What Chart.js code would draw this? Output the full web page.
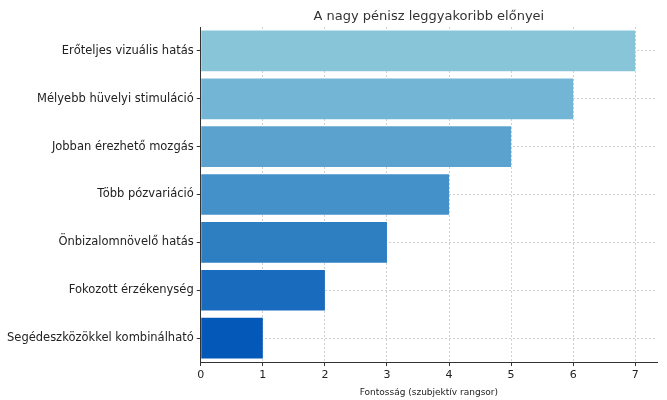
<!DOCTYPE html>
<html>
<head>
<meta charset="utf-8">
<script src="https://cdn.jsdelivr.net/npm/chart.js@4"></script>
<style>
  body { margin: 0; background: #fff; }
  #wrap { width: 667px; height: 400px; }
</style>
</head>
<body>
<div id="wrap"><canvas id="chart"></canvas></div>
<script>
const labels = [
  'Erőteljes vizuális hatás',
  'Mélyebb hüvelyi stimuláció',
  'Jobban érezhető mozgás',
  'Több pózvariáció',
  'Önbizalomnövelő hatás',
  'Fokozott érzékenység',
  'Segédeszközökkel kombinálható'
];
const values = [7, 6, 5, 4, 3, 2, 1];
const barColors = ['#89c5d9', '#72b5d5', '#5ba3ce', '#4490c8', '#2e7ec2', '#196bbd', '#0458b8'];
const xTicks = [0, 1, 2, 3, 4, 5, 6, 7];
const chartTitle = 'A nagy pénisz leggyakoribb előnyei';

// title centred over the plot area, like matplotlib
const plotTitle = {
  id: 'plotTitle',
  afterDraw(chart) {
    const { ctx, chartArea } = chart;
    ctx.save();
    ctx.fillStyle = '#333';
    ctx.font = '13px "DejaVu Sans"';
    ctx.textAlign = 'center';
    ctx.textBaseline = 'alphabetic';
    ctx.fillText(chartTitle, (chartArea.left + chartArea.right) / 2, chartArea.top - 7);
    ctx.restore();
  }
};

const ctx = document.getElementById('chart').getContext('2d');
new Chart(ctx, {
  type: 'bar',
  data: {
    labels: labels,
    datasets: [{
      data: values,
      backgroundColor: barColors,
      barPercentage: 0.85,
      categoryPercentage: 1.0
    }]
  },
  options: {
    indexAxis: 'y',
    responsive: true,
    maintainAspectRatio: false,
    animation: false,
    layout: { padding: { left: 4, right: 10, top: 27, bottom: 0 } },
    plugins: {
      legend: { display: false },
      tooltip: { enabled: false },
      title: { display: false }
    },
    scales: {
      x: {
        min: 0,
        max: 7.35,
        afterBuildTicks: (axis) => { axis.ticks = xTicks.map(v => ({ value: v })); },
        ticks: { color: '#222', font: { family: 'DejaVu Sans', size: 11 } },
        grid: { color: '#d0d0d0', tickColor: '#333', tickLength: 4 },
        border: { display: true, color: '#333', dash: [2, 2] },
        title: {
          display: true,
          text: 'Fontosság (szubjektív rangsor)',
          color: '#222',
          font: { family: 'DejaVu Sans', size: 9 },
          padding: { top: 2, bottom: 2 }
        }
      },
      y: {
        grid: { offset: false, color: '#d0d0d0', tickColor: '#333', tickLength: 4 },
        border: { display: true, color: '#333', dash: [2, 2] },
        ticks: { color: '#222', font: { family: 'DejaVu Sans', size: 11.5 } }
      }
    }
  },
  plugins: [plotTitle]
});
</script>
</body>
</html>
